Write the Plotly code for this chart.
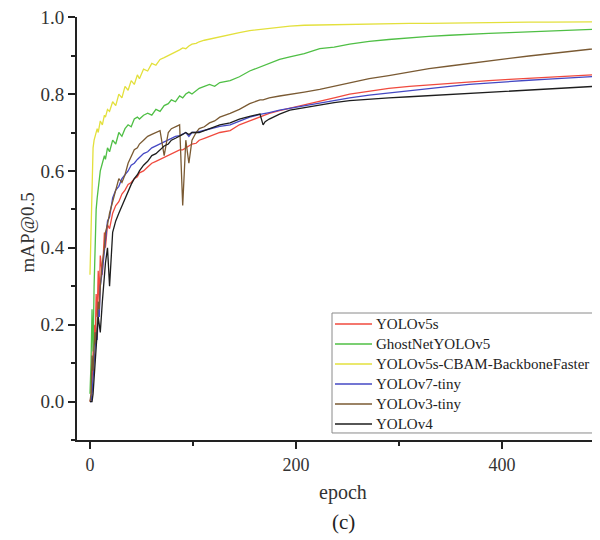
import plotly.graph_objects as go

epochs = [0, 1, 2, 3, 4, 5, 6, 7, 8, 9, 10, 12, 14, 15, 17, 19, 22, 25, 28, 31,
          34, 37, 40, 43, 46, 48, 52, 56, 60, 64, 68, 72, 76, 79, 83, 87, 90, 93,
          96, 99, 103, 106, 111, 116, 121, 126, 136, 145, 155, 165, 168, 170,
          174, 184, 194, 208, 223, 237, 252, 271, 290, 310, 329, 349, 368, 387,
          407, 426, 445, 465, 484, 503]

yolov5s = [0.0, 0.01, 0.05, 0.12, 0.20, 0.15, 0.28, 0.22, 0.34, 0.26, 0.38, 0.33,
           0.44, 0.40, 0.46, 0.45, 0.49, 0.51, 0.52, 0.54, 0.55, 0.565, 0.57, 0.58,
           0.585, 0.595, 0.60, 0.61, 0.62, 0.625, 0.63, 0.635, 0.64, 0.645, 0.65,
           0.655, 0.655, 0.66, 0.665, 0.67, 0.672, 0.68, 0.685, 0.69, 0.695, 0.70,
           0.705, 0.72, 0.73, 0.74, 0.742, 0.745, 0.75, 0.757, 0.763, 0.773, 0.782,
           0.79, 0.80, 0.808, 0.815, 0.82, 0.824, 0.828, 0.832, 0.835, 0.838,
           0.841, 0.844, 0.847, 0.85, 0.852]

ghostnet = [0.02, 0.10, 0.24, 0.13, 0.30, 0.42, 0.50, 0.53, 0.56, 0.59, 0.60, 0.62,
            0.64, 0.63, 0.66, 0.65, 0.68, 0.67, 0.70, 0.69, 0.71, 0.72, 0.715, 0.735,
            0.74, 0.735, 0.745, 0.75, 0.745, 0.76, 0.755, 0.77, 0.775, 0.785, 0.78,
            0.795, 0.79, 0.80, 0.805, 0.80, 0.81, 0.815, 0.82, 0.825, 0.82, 0.83,
            0.835, 0.845, 0.86, 0.87, 0.872, 0.875, 0.88, 0.89, 0.897, 0.905, 0.918,
            0.922, 0.93, 0.937, 0.942, 0.947, 0.95, 0.953, 0.956, 0.958, 0.96,
            0.962, 0.964, 0.966, 0.968, 0.97]

cbam = [0.33, 0.45, 0.60, 0.66, 0.68, 0.69, 0.70, 0.71, 0.70, 0.72, 0.73, 0.72,
        0.745, 0.74, 0.76, 0.755, 0.78, 0.77, 0.80, 0.79, 0.82, 0.81, 0.835, 0.825,
        0.85, 0.84, 0.865, 0.86, 0.88, 0.875, 0.89, 0.895, 0.90, 0.905, 0.91, 0.915,
        0.92, 0.918, 0.925, 0.93, 0.932, 0.936, 0.94, 0.943, 0.946, 0.95, 0.955,
        0.96, 0.965, 0.968, 0.969, 0.97, 0.972, 0.975, 0.977, 0.979, 0.98, 0.981,
        0.982, 0.983, 0.983, 0.984, 0.984, 0.985, 0.985, 0.986, 0.986, 0.987,
        0.987, 0.988, 0.988, 0.988]

yolov7_tiny = [0.0, 0.0, 0.02, 0.06, 0.10, 0.14, 0.18, 0.16, 0.24, 0.22, 0.30, 0.34,
               0.40, 0.43, 0.47, 0.48, 0.53, 0.55, 0.56, 0.58, 0.59, 0.60, 0.615,
               0.62, 0.63, 0.635, 0.645, 0.65, 0.66, 0.665, 0.67, 0.675, 0.68, 0.685,
               0.69, 0.692, 0.695, 0.70, 0.69, 0.70, 0.70, 0.702, 0.705, 0.71, 0.713,
               0.716, 0.72, 0.73, 0.74, 0.747, 0.748, 0.75, 0.752, 0.758, 0.763,
               0.77, 0.777, 0.783, 0.79, 0.797, 0.803, 0.809, 0.815, 0.82, 0.825,
               0.829, 0.833, 0.836, 0.839, 0.842, 0.846, 0.848]

yolov3_tiny = [0.0, 0.02, 0.12, 0.08, 0.14, 0.18, 0.15, 0.22, 0.26, 0.24, 0.30, 0.36,
               0.40, 0.44, 0.46, 0.49, 0.52, 0.55, 0.58, 0.57, 0.59, 0.62, 0.64,
               0.655, 0.66, 0.67, 0.68, 0.69, 0.695, 0.70, 0.705, 0.64, 0.70, 0.71,
               0.715, 0.72, 0.51, 0.68, 0.62, 0.68, 0.70, 0.71, 0.715, 0.725, 0.73,
               0.74, 0.75, 0.76, 0.775, 0.785, 0.785, 0.787, 0.79, 0.795, 0.80,
               0.805, 0.812, 0.82, 0.83, 0.84, 0.848, 0.858, 0.866, 0.873, 0.88,
               0.887, 0.893, 0.899, 0.905, 0.911, 0.917, 0.922]

yolov4 = [0.0, 0.0, 0.0, 0.02, 0.06, 0.10, 0.14, 0.18, 0.22, 0.20, 0.18, 0.26, 0.33,
          0.36, 0.40, 0.30, 0.44, 0.47, 0.49, 0.51, 0.53, 0.55, 0.565, 0.58, 0.59,
          0.60, 0.615, 0.625, 0.64, 0.645, 0.655, 0.665, 0.67, 0.68, 0.685, 0.69,
          0.695, 0.70, 0.695, 0.70, 0.70, 0.70, 0.705, 0.71, 0.715, 0.72, 0.725,
          0.735, 0.742, 0.748, 0.72, 0.728, 0.735, 0.748, 0.758, 0.765, 0.772,
          0.778, 0.783, 0.787, 0.79, 0.793, 0.796, 0.799, 0.802, 0.805, 0.808,
          0.811, 0.814, 0.817, 0.82, 0.822]

series = [
    ("YOLOv5s", yolov5s, "#f04a3e"),
    ("GhostNetYOLOv5", ghostnet, "#4fbf45"),
    ("YOLOv5s-CBAM-BackboneFaster", cbam, "#e3e03c"),
    ("YOLOv7-tiny", yolov7_tiny, "#4448c4"),
    ("YOLOv3-tiny", yolov3_tiny, "#7a5a33"),
    ("YOLOv4", yolov4, "#1e1e1e"),
]

serif = "Liberation Serif"

fig = go.Figure()
for name, vals, color in series:
    fig.add_trace(go.Scatter(x=epochs, y=vals, mode="lines", name=name,
                             line=dict(color=color, width=1.3)))

# page body adds an 8px margin, so the figure is 8px smaller than the window
fig.update_layout(
    width=592, height=532,
    margin=dict(l=69, r=0, t=9, b=100, autoexpand=False),
    plot_bgcolor="white", paper_bgcolor="white",
    font=dict(family=serif, color="#222"),
    showlegend=False,
)

fig.update_xaxes(range=[-12.6, 495], dtick=200, showgrid=False, zeroline=False,
                 showline=True, linecolor="#222", linewidth=2,
                 ticks="outside", ticklen=7, tickwidth=2, tickcolor="#222",
                 tickfont=dict(family=serif, size=18, color="#333"),
                 minor=dict(dtick=100, ticks="outside", ticklen=4,
                            tickwidth=2, tickcolor="#222"))
fig.update_yaxes(range=[-0.1, 1.0005], tick0=0, dtick=0.2, tickformat=".1f",
                 showgrid=False, zeroline=False, ticklabeloverflow="allow",
                 showline=True, linecolor="#222", linewidth=2,
                 ticks="outside", ticklen=7, tickwidth=2, tickcolor="#222",
                 tickfont=dict(family=serif, size=19, color="#333"),
                 minor=dict(tick0=0, dtick=0.1, ticks="outside", ticklen=4,
                            tickwidth=2, tickcolor="#222"))

# legend drawn by hand so its box runs off the right edge like the original
fig.add_shape(type="rect", xref="paper", yref="paper", x0=0.4876, x1=1.05,
              y0=0.0166, y1=0.3002, fillcolor="white", layer="above",
              line=dict(color="#8a8a8a", width=1))
for i, (name, vals, color) in enumerate(series):
    ly = 0.2742 - i * 0.0473
    fig.add_shape(type="line", xref="paper", yref="paper", x0=0.4933, x1=0.5641,
                  y0=ly, y1=ly, layer="above", line=dict(color=color, width=1.5))
    fig.add_annotation(text=name, xref="paper", yref="paper", x=0.5679, y=ly,
                       xanchor="left", yanchor="middle", showarrow=False,
                       font=dict(family=serif, size=15, color="#222"))

fig.add_annotation(text="mAP@0.5", xref="paper", yref="paper", x=-0.094, y=0.49,
                   xanchor="center", yanchor="middle", textangle=-90,
                   showarrow=False, font=dict(family=serif, size=19, color="#333"))
fig.add_annotation(text="epoch", xref="paper", yref="paper", x=0.509, y=-0.125,
                   xanchor="center", yanchor="middle", showarrow=False,
                   font=dict(family=serif, size=20, color="#333"))
fig.add_annotation(text="(c)", xref="paper", yref="paper", x=0.509, y=-0.194,
                   xanchor="center", yanchor="middle", showarrow=False,
                   font=dict(family=serif, size=21, color="#222"))

fig.write_html("out.html")
